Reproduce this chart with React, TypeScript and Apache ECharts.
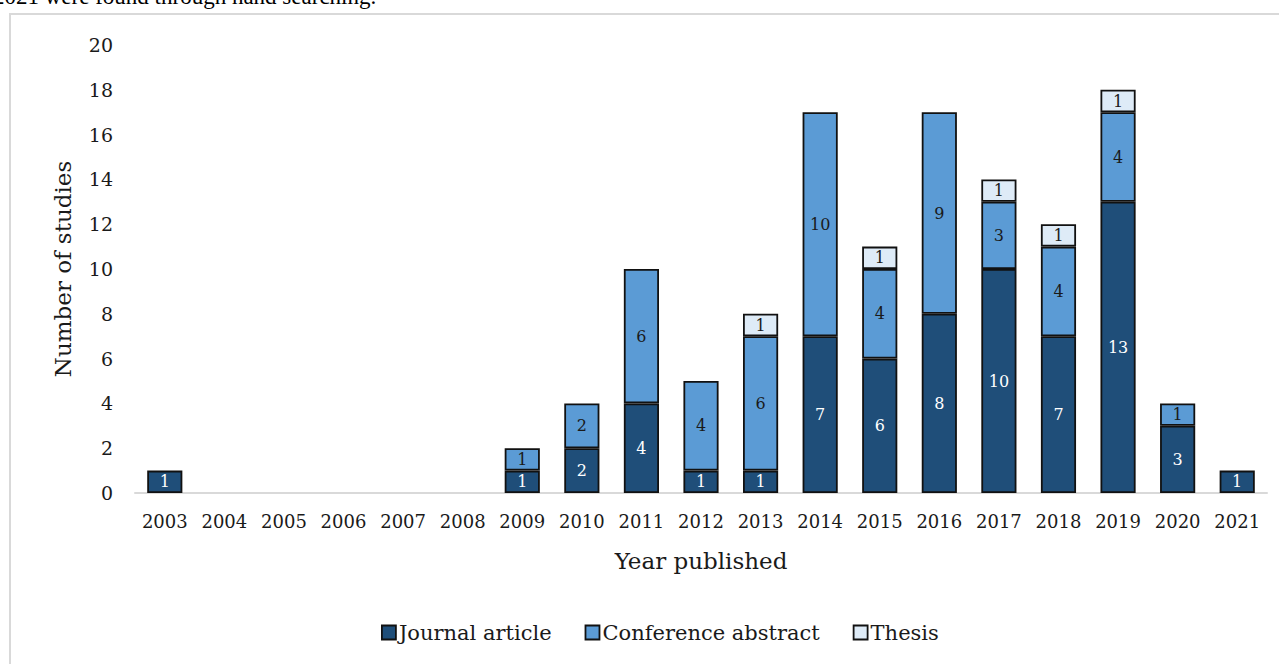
import React, { useEffect, useRef } from "react";
import * as echarts from "echarts";

const years = ["2003", "2004", "2005", "2006", "2007", "2008", "2009", "2010", "2011", "2012", "2013", "2014", "2015", "2016", "2017", "2018", "2019", "2020", "2021"];
const journal = [1, null, null, null, null, null, 1, 2, 4, 1, 1, 7, 6, 8, 10, 7, 13, 3, 1];
const conference = [null, null, null, null, null, null, 1, 2, 6, 4, 6, 10, 4, 9, 3, 4, 4, 1, null];
const thesis = [null, null, null, null, null, null, null, null, null, null, 1, null, 1, null, 1, 1, 1, null, null];
const yTicks = { min: 0, max: 20, interval: 2 };
const caption = "2021 were found through hand searching.";

const FONT = "DejaVu Serif";

export default function App() {
  const ref = useRef<HTMLDivElement>(null);
  useEffect(() => {
    if (!ref.current) return;
    const chart = echarts.init(ref.current, undefined, { renderer: "svg" });
    const mk = (name: string, data: (number | null)[], color: string, labelColor: string) => ({
      name,
      type: "bar",
      stack: "total",
      data,
      barWidth: "59%",
      itemStyle: { color, borderColor: "#111", borderWidth: 1.8 },
      label: {
        show: true,
        position: "inside",
        color: labelColor,
        fontFamily: FONT,
        fontSize: 16,
      },
    });
    chart.setOption({
      animation: false,
      backgroundColor: "#ffffff",
      textStyle: { fontFamily: FONT },
      graphic: [
        {
          type: "text",
          left: -7,
          top: -15,
          style: { text: caption, font: "23px 'Liberation Serif'", fill: "#000" },
        },
        {
          type: "rect",
          shape: { x: 10, y: 14, width: 1290, height: 700 },
          style: { fill: "none", stroke: "#d9d9d9", lineWidth: 2 },
          z: -1,
        },
      ],
      grid: { left: 135, right: 12, top: 45, bottom: 171 },
      legend: {
        bottom: 16,
        left: 376,
        itemWidth: 14,
        itemHeight: 14,
        itemGap: 33,
        icon: "rect",
        textStyle: { fontFamily: FONT, fontSize: 21, color: "#1a1a1a", padding: [0, 0, 0, -2] },
        itemStyle: { borderColor: "#111", borderWidth: 1.8 },
      },
      xAxis: {
        type: "category",
        data: years,
        axisLine: { lineStyle: { color: "#d9d9d9", width: 2 } },
        axisTick: { show: false },
        axisLabel: { fontFamily: FONT, fontSize: 18, color: "#1a1a1a", margin: 19 },
        name: "Year published",
        nameLocation: "middle",
        nameGap: 56,
        nameTextStyle: { fontFamily: FONT, fontSize: 23, color: "#1a1a1a" },
      },
      yAxis: {
        type: "value",
        min: yTicks.min,
        max: yTicks.max,
        interval: yTicks.interval,
        axisLine: { show: false },
        axisTick: { show: false },
        splitLine: { show: false },
        axisLabel: { fontFamily: FONT, fontSize: 19, color: "#1a1a1a", margin: 22 },
        name: "Number of studies",
        nameLocation: "middle",
        nameRotate: 90,
        nameGap: 61,
        nameTextStyle: { fontFamily: FONT, fontSize: 23, color: "#1a1a1a" },
      },
      series: [
        mk("Journal article", journal, "#1f4e79", "#ffffff"),
        mk("Conference abstract", conference, "#5b9bd5", "#1a1a1a"),
        mk("Thesis", thesis, "#deebf7", "#1a1a1a"),
      ],
    });
    return () => chart.dispose();
  }, []);
  return (
    <div
      ref={ref}
      style={{ position: "absolute", left: 0, top: 0, width: 1279, height: 664, background: "#fff" }}
    />
  );
}
